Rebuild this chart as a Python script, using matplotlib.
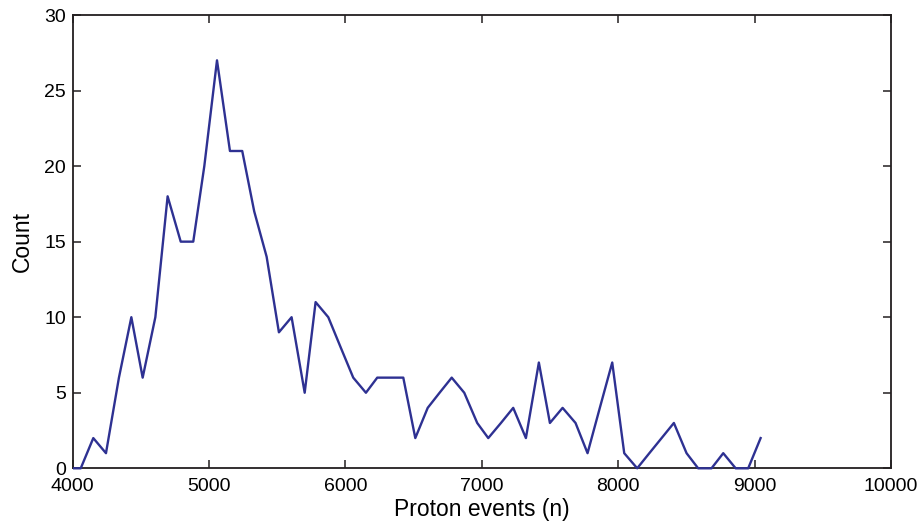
import matplotlib
matplotlib.use('Agg')
import matplotlib.pyplot as plt
from matplotlib.transforms import Bbox, TransformedBbox

plt.rcParams['font.family'] = ['Liberation Sans', 'DejaVu Sans']

# bin centres (proton events) and counts
events = [3968, 4059, 4151, 4244, 4339, 4430, 4513, 4606, 4696, 4792,
          4884, 4965, 5058, 5153, 5243, 5331, 5422, 5512, 5605, 5701,
          5781, 5874, 5965, 6057, 6150, 6233, 6328, 6424, 6512, 6603,
          6690, 6779, 6871, 6966, 7047, 7140, 7230, 7323, 7418, 7499,
          7592, 7687, 7775, 7865, 7956, 8044, 8139, 8228, 8318, 8408,
          8501, 8586, 8684, 8770, 8861, 8953, 9044]
counts = [0, 0, 2, 1, 6, 10, 6, 10, 18, 15,
          15, 20, 27, 21, 21, 17, 14, 9, 10, 5,
          11, 10, 8, 6, 5, 6, 6, 6, 2, 4,
          5, 6, 5, 3, 2, 3, 4, 2, 7, 3,
          4, 3, 1, 4, 7, 1, 0, 1, 2, 3,
          1, 0, 0, 1, 0, 0, 2]

x_ticks = [4000, 5000, 6000, 7000, 8000, 9000, 10000]
y_ticks = [0, 5, 10, 15, 20, 25, 30]

fig = plt.figure(figsize=(9.22, 5.25), dpi=100)
ax = fig.add_axes([72.7 / 922, 1 - 468.3 / 525, (891 - 72.7) / 922, (468.3 - 15) / 525])

line, = ax.plot(events, counts, color='#2e3192', linewidth=1.7, zorder=3)
# clip only left/right so the zero segments sit fully on the axis
line.set_clip_box(TransformedBbox(Bbox([[0, -0.05], [1, 1.05]]), ax.transAxes))

ax.set_xlim(4000, 10000)
ax.set_ylim(0, 30)
ax.set_xticks(x_ticks)
ax.set_yticks(y_ticks)

axis_col = '#231f20'
for s in ax.spines.values():
    s.set_color(axis_col)
    s.set_linewidth(1.3)
ax.tick_params(direction='in', length=5.8, width=1.1, color=axis_col,
               top=True, right=True, labelsize=14, labelcolor='black')
ax.tick_params(axis='x', pad=7)
ax.tick_params(axis='y', pad=5)

ax.set_xlabel('Proton events (n)', fontsize=16.5, labelpad=2)
ax.set_ylabel('Count', fontsize=16.5, labelpad=7)

fig.savefig('out.png', dpi=100)
